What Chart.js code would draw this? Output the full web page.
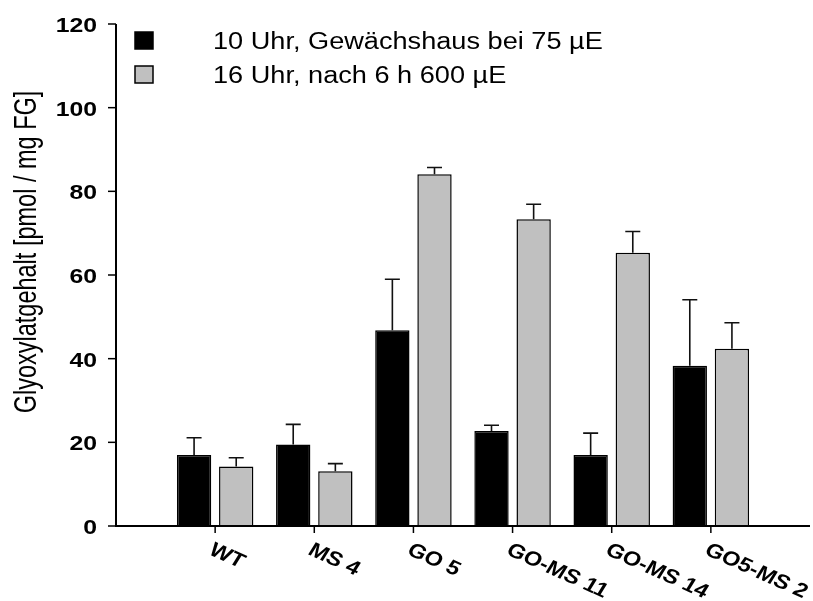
<!DOCTYPE html>
<html>
<head>
<meta charset="utf-8">
<script src="https://cdn.jsdelivr.net/npm/chart.js@4/dist/chart.umd.min.js"></script>
<style>
  html, body { margin: 0; padding: 0; background: #fff; }
  #wrap { width: 813px; height: 601px; }
</style>
</head>
<body>
<div id="wrap"><canvas id="chart"></canvas></div>
<script>
const categories = ["WT", "MS 4", "GO 5", "GO-MS 11", "GO-MS 14", "GO5-MS 2"];
const seriesNames = ["10 Uhr, Gewächshaus bei 75 µE", "16 Uhr, nach 6 h 600 µE"];
const morning = [17.0, 19.5, 46.8, 22.7, 17.0, 38.3];
const morningErr = [4.1, 4.8, 12.2, 1.4, 5.2, 15.8];
const afternoon = [14.2, 13.1, 84.1, 73.3, 65.3, 42.4];
const afternoonErr = [2.1, 1.8, 1.6, 3.6, 5.1, 6.2];
const yTicks = [0, 20, 40, 60, 80, 100, 120];
const yTitle = "Glyoxylatgehalt [pmol / mg FG]";
const colors = ["#000000", "#c0c0c0"];

// the reference looks stretched sideways, so text is drawn with a horizontal scale
const SX = 1.18;

// empty slot before WT and after the last group
const labels = ["", ...categories, ""];
const pad = (arr) => [null, ...arr, null];

function stretchText(ctx, text, x, y, angle, sx = SX) {
  ctx.save();
  ctx.translate(x, y);
  ctx.scale(sx, 1);
  ctx.rotate(angle);
  ctx.fillText(text, 0, 0);
  ctx.restore();
}

const axesPlugin = {
  id: "axesPlugin",
  afterDatasetsDraw(chart) {
    const ctx = chart.ctx;
    const xs = chart.scales.x;
    const ys = chart.scales.y;
    const area = chart.chartArea;

    // error bars, upward only
    const errs = [morningErr, afternoonErr];
    const vals = [morning, afternoon];
    ctx.save();
    ctx.strokeStyle = "#111";
    ctx.lineWidth = 1.6;
    chart.data.datasets.forEach((ds, d) => {
      const meta = chart.getDatasetMeta(d);
      categories.forEach((c, i) => {
        const bar = meta.data[i + 1];
        const top = ys.getPixelForValue(vals[d][i] + errs[d][i]);
        ctx.beginPath();
        ctx.moveTo(bar.x, bar.y);
        ctx.lineTo(bar.x, top);
        ctx.moveTo(bar.x - 7.5, top);
        ctx.lineTo(bar.x + 7.5, top);
        ctx.stroke();
      });
    });
    ctx.restore();

    // axis lines
    ctx.save();
    ctx.strokeStyle = "#000";
    ctx.lineWidth = 2;
    ctx.beginPath();
    ctx.moveTo(area.left, ys.getPixelForValue(120));
    ctx.lineTo(area.left, area.bottom);
    ctx.lineTo(area.right, area.bottom);
    ctx.stroke();

    // y ticks and labels
    ctx.lineWidth = 1.5;
    ctx.fillStyle = "#000";
    ctx.font = "bold 21px 'Liberation Sans', Arial, sans-serif";
    ctx.textAlign = "right";
    ctx.textBaseline = "alphabetic";
    yTicks.forEach((t) => {
      const y = ys.getPixelForValue(t);
      ctx.beginPath();
      ctx.moveTo(area.left - 8, y);
      ctx.lineTo(area.left, y);
      ctx.stroke();
      stretchText(ctx, String(t), 97, y + 8, 0);
    });

    // x ticks and slanted labels
    ctx.font = "bold 20px 'Liberation Sans', Arial, sans-serif";
    ctx.textAlign = "left";
    ctx.textBaseline = "top";
    categories.forEach((c, i) => {
      const x = xs.getPixelForValue(i + 1);
      ctx.beginPath();
      ctx.moveTo(x, area.bottom);
      ctx.lineTo(x, area.bottom + 7);
      ctx.stroke();
      stretchText(ctx, c, x + 1, area.bottom + 14, 28 * Math.PI / 180);
    });

    // y title
    ctx.font = "23.5px 'Liberation Sans', Arial, sans-serif";
    ctx.textAlign = "center";
    ctx.textBaseline = "middle";
    stretchText(ctx, yTitle, 28, 252, -Math.PI / 2, 1.3);

    // legend
    ctx.font = "23px 'Liberation Sans', Arial, sans-serif";
    ctx.textAlign = "left";
    ctx.textBaseline = "alphabetic";
    const rows = [32, 66];
    seriesNames.forEach((name, k) => {
      ctx.fillStyle = colors[k];
      ctx.fillRect(135, rows[k], 18, 17);
      ctx.lineWidth = 1.5;
      ctx.strokeStyle = "#000";
      ctx.strokeRect(135, rows[k], 18, 17);
      ctx.fillStyle = "#000";
      stretchText(ctx, name, 213, rows[k] + 17, 0);
    });
    ctx.restore();
  }
};

new Chart(document.getElementById("chart"), {
  type: "bar",
  data: {
    labels: labels,
    datasets: [
      {
        label: seriesNames[0],
        data: pad(morning),
        backgroundColor: colors[0],
        borderColor: "#000",
        borderWidth: 1.5,
        categoryPercentage: 0.85,
        barPercentage: 0.815
      },
      {
        label: seriesNames[1],
        data: pad(afternoon),
        backgroundColor: colors[1],
        borderColor: "#000",
        borderWidth: 1.5,
        categoryPercentage: 0.85,
        barPercentage: 0.815
      }
    ]
  },
  options: {
    responsive: true,
    maintainAspectRatio: false,
    animation: false,
    layout: { padding: { left: 116, right: 3, top: 24, bottom: 75 } },
    scales: {
      x: { type: "category", offset: false, display: false },
      y: { min: 0, max: 120, display: false }
    },
    plugins: {
      legend: { display: false },
      tooltip: { enabled: false }
    }
  },
  plugins: [axesPlugin]
});
</script>
</body>
</html>
